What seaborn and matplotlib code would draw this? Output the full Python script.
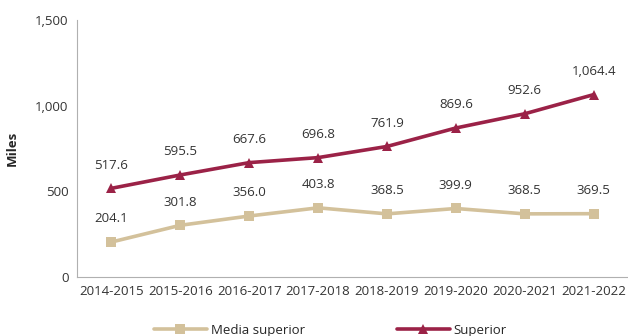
import matplotlib
matplotlib.use("Agg")
import matplotlib.pyplot as plt
import seaborn as sns
import pandas as pd

years = ["2014-2015", "2015-2016", "2016-2017", "2017-2018",
         "2018-2019", "2019-2020", "2020-2021", "2021-2022"]
media_superior = [204.1, 301.8, 356.0, 403.8, 368.5, 399.9, 368.5, 369.5]
superior = [517.6, 595.5, 667.6, 696.8, 761.9, 869.6, 952.6, 1064.4]
yticks = [0, 500, 1000, 1500]

sns.set_theme(style="white")
plt.rcParams['font.family'] = ['Open Sans', 'DejaVu Sans']

df = pd.DataFrame({
    "Ciclo": years * 2,
    "Valor": media_superior + superior,
    "Serie": ["Media superior"] * len(years) + ["Superior"] * len(years),
})

fig = plt.figure(figsize=(6.28, 3.36), dpi=100)
ax = fig.add_axes([77/628, 1 - 277/336, (628-77)/628, (277-20)/336])

palette = {"Media superior": "#D3C19B", "Superior": "#9B2247"}
markers = {"Media superior": "s", "Superior": "^"}
sns.lineplot(data=df, x="Ciclo", y="Valor", hue="Serie", style="Serie",
             palette=palette, markers=markers, dashes=False, linewidth=2.6,
             markersize=7, markeredgewidth=0, sort=False, ax=ax, legend=True)

ax.set_xlim(-0.5, len(years) - 0.5)
ax.set_ylim(0, 1500)
ax.set_yticks(yticks)
ax.set_yticklabels([f"{v:,}" for v in yticks])
ax.tick_params(axis='both', labelsize=9.5, colors="#333333", length=0, pad=6)
ax.set_xlabel("")
ax.set_ylabel("Miles", fontsize=9.5, fontweight="bold", labelpad=12)
for s in ["top", "right"]:
    ax.spines[s].set_visible(False)
for s in ["left", "bottom"]:
    ax.spines[s].set_color("#b0b0b0")
    ax.spines[s].set_linewidth(0.8)

for i, v in enumerate(superior):
    ax.annotate(f"{v:,.1f}", (i, v), xytext=(0, 12), textcoords="offset points",
                ha="center", va="bottom", fontsize=9.5, color="#333333")
for i, v in enumerate(media_superior):
    ax.annotate(f"{v:,.1f}", (i, v), xytext=(0, 12), textcoords="offset points",
                ha="center", va="bottom", fontsize=9.5, color="#333333")

leg = ax.legend(loc="upper center", bbox_to_anchor=(0.46, -0.135), ncol=2,
                frameon=False, fontsize=9.5, columnspacing=7, handlelength=4,
                handletextpad=0.3)
fig.savefig("out.png", dpi=100)
